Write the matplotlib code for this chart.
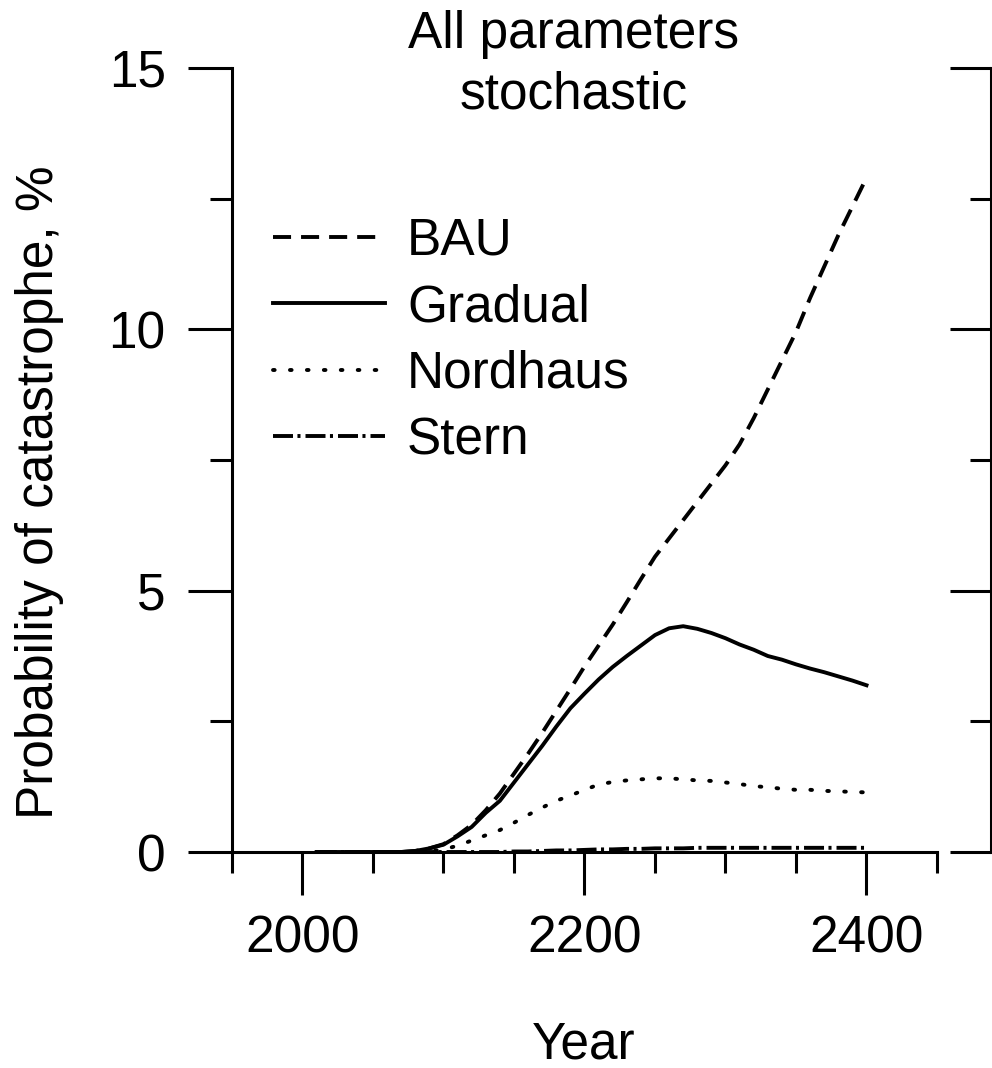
import numpy as np
from matplotlib import pyplot as plt
from matplotlib.ticker import MultipleLocator, FixedLocator

plt.rcParams['font.family'] = ['Liberation Sans', 'DejaVu Sans']
plt.rcParams['lines.scale_dashes'] = False

years = np.arange(2010, 2401, 10)

# probability of catastrophe, %
bau = [0, 0, 0, 0, 0, 0, 0, 0.02, 0.07, 0.15,
       0.32, 0.52, 0.80, 1.12, 1.50, 1.88, 2.28, 2.70, 3.12, 3.55,
       3.95, 4.35, 4.78, 5.22, 5.65, 6.00, 6.35, 6.70, 7.05, 7.40,
       7.80, 8.30, 8.85, 9.40, 9.95, 10.60, 11.20, 11.80, 12.35, 12.90]
gradual = [0, 0, 0, 0, 0, 0, 0, 0.02, 0.07, 0.14,
           0.30, 0.48, 0.75, 0.98, 1.33, 1.68, 2.03, 2.40, 2.75, 3.03,
           3.30, 3.54, 3.75, 3.95, 4.15, 4.28, 4.32, 4.27, 4.19, 4.09,
           3.97, 3.87, 3.75, 3.68, 3.59, 3.51, 3.44, 3.36, 3.28, 3.19]
nordhaus = [0, 0, 0, 0, 0, 0, 0, 0, 0.01, 0.05,
            0.12, 0.22, 0.32, 0.42, 0.56, 0.71, 0.85, 0.98, 1.08, 1.19,
            1.29, 1.34, 1.37, 1.39, 1.41, 1.41, 1.39, 1.37, 1.36, 1.33,
            1.30, 1.26, 1.24, 1.21, 1.19, 1.19, 1.17, 1.16, 1.15, 1.14]
stern = [0, 0, 0, 0, 0, 0, 0, 0, 0, 0,
         0, 0, 0, 0, 0.01, 0.01, 0.02, 0.03, 0.03, 0.04,
         0.05, 0.05, 0.06, 0.06, 0.07, 0.07, 0.07, 0.08, 0.08, 0.08,
         0.08, 0.08, 0.08, 0.08, 0.08, 0.08, 0.08, 0.08, 0.08, 0.08]

series = [("BAU", bau, (0, (13, 7.2)), "butt"),
          ("Gradual", gradual, "-", "butt"),
          ("Nordhaus", nordhaus, (0, (1.2, 11.0)), "round"),
          ("Stern", stern, (0, (14.4, 3.2, 2.2, 3.6)), "butt")]

fs = 37
lw = 2.2

fig = plt.figure(figsize=(9.92, 10.68), dpi=100)
ax = fig.add_axes([232 / 992, 216 / 1068, 759 / 992, 784 / 1068])

for name, vals, ls, cap in series:
    ax.plot(years, vals, color="black", lw=2.8, ls=ls, dash_capstyle=cap, label=name)

ax.set_xlim(1950, 2488.3)
ax.set_ylim(0, 15)

ax.spines["top"].set_visible(False)
ax.spines["right"].set_visible(False)
ax.spines["left"].set_linewidth(lw)
ax.spines["bottom"].set_linewidth(lw)
ax.spines["bottom"].set_bounds(1950, 2450)

ax.xaxis.set_major_locator(FixedLocator([2000, 2200, 2400]))
ax.xaxis.set_minor_locator(MultipleLocator(50))
ax.yaxis.set_major_locator(MultipleLocator(5))
ax.yaxis.set_minor_locator(MultipleLocator(2.5))

ax.tick_params(axis="x", which="major", direction="out", length=31, width=lw,
               labelsize=fs, pad=14)
ax.tick_params(axis="x", which="minor", direction="out", length=15, width=lw)
ax.tick_params(axis="y", which="major", direction="out", length=31.7, width=lw,
               labelsize=fs, pad=16)
ax.tick_params(axis="y", which="minor", direction="out", length=15.8, width=lw)

# right-hand axis with inward ticks, no labels
ax2 = ax.twinx()
ax2.set_ylim(0, 15)
for side in ["left", "top", "bottom"]:
    ax2.spines[side].set_visible(False)
ax2.spines["right"].set_linewidth(lw)
ax2.yaxis.set_major_locator(MultipleLocator(5))
ax2.yaxis.set_minor_locator(MultipleLocator(2.5))
ax2.tick_params(which="major", direction="in", length=29.5, width=lw, labelright=False)
ax2.tick_params(which="minor", direction="in", length=15, width=lw)

ax.legend(loc="upper left", bbox_to_anchor=(0.054, 0.81), frameon=False,
          fontsize=fs, handlelength=2.18, handletextpad=0.43, labelspacing=0.34,
          borderpad=0, borderaxespad=0)

fig.text(574 / 992, 1 - 10 / 1068, "All parameters\nstochastic", ha="center", va="top",
         fontsize=fs, linespacing=1.3)
fig.text(584 / 992, 1 - 1045 / 1068, "Year", ha="center", va="center", fontsize=fs)
fig.text(40 / 992, 1 - 492 / 1068, "Probability of catastrophe, %", ha="center",
         va="center", rotation=90, fontsize=fs)

fig.savefig("out.png", dpi=100)
